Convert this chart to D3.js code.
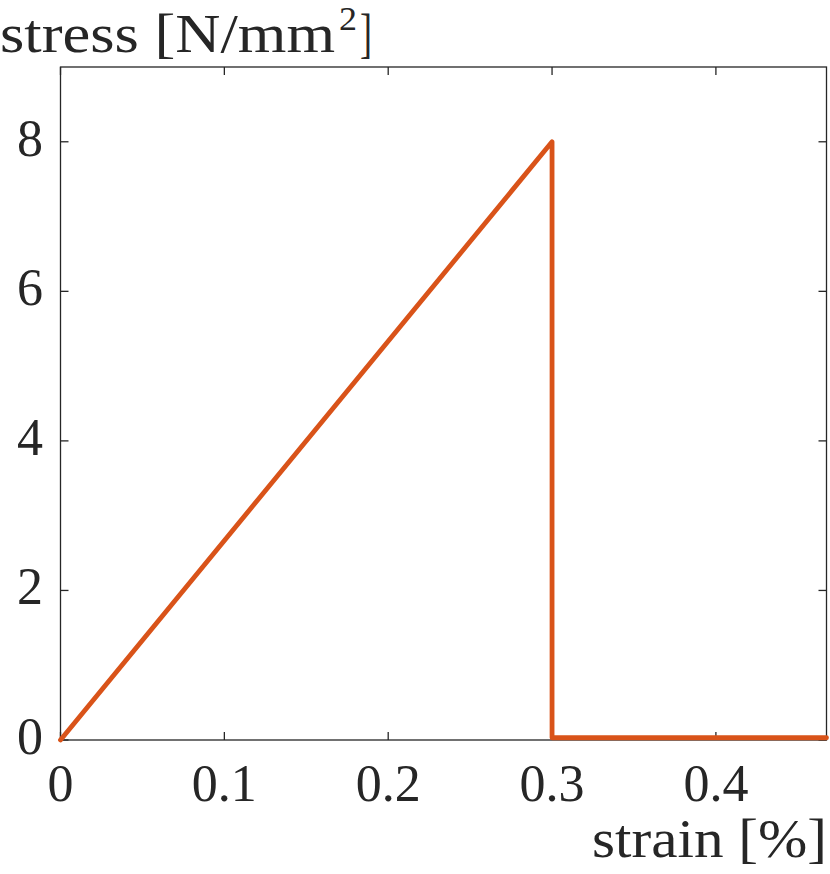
<!DOCTYPE html>
<html><head><meta charset="utf-8">
<script src="https://cdn.jsdelivr.net/npm/d3@7"></script>
<style>body{margin:0;background:#fff}svg{display:block}</style>
</head><body>
<svg id="c" width="830" height="874"></svg>
<script>
const strain = [0, 0.3, 0.3, 0.4675];
const stress = [0, 8, 0.03, 0.03];
const xTicks = [0, 0.1, 0.2, 0.3, 0.4];
const yTicks = [0, 2, 4, 6, 8];
const xDomain = [0, 0.4675];
const yDomain = [0, 9];

const svg = d3.select("#c");
const L = 60.5, R = 826.5, T = 67, B = 740;
const x = d3.scaleLinear().domain(xDomain).range([L, R]);
const y = d3.scaleLinear().domain(yDomain).range([B, T]);
const axisCol = "#262626";
const font = "'Liberation Serif', 'Times New Roman', serif";
const fs = 52;

// box
svg.append("rect").attr("x", L).attr("y", T).attr("width", R - L).attr("height", B - T)
  .attr("fill", "none").attr("stroke", axisCol).attr("stroke-width", 1.3);

// ticks (inward) on all sides
const g = svg.append("g").attr("stroke", axisCol).attr("stroke-width", 1.3);
xTicks.forEach(t => {
  g.append("line").attr("x1", x(t)).attr("x2", x(t)).attr("y1", B).attr("y2", B - 8);
  g.append("line").attr("x1", x(t)).attr("x2", x(t)).attr("y1", T).attr("y2", T + 8);
});
yTicks.forEach(t => {
  g.append("line").attr("x1", L).attr("x2", L + 8).attr("y1", y(t)).attr("y2", y(t));
  g.append("line").attr("x1", R).attr("x2", R - 8).attr("y1", y(t)).attr("y2", y(t));
});

// tick labels
svg.append("g").selectAll("text").data(xTicks).join("text")
  .attr("x", d => x(d)).attr("y", 801).attr("text-anchor", "middle")
  .attr("font-family", font).attr("font-size", fs).attr("fill", axisCol)
  .text(d => d === 0 ? "0" : d3.format(".1f")(d));
svg.append("g").selectAll("text").data(yTicks).join("text")
  .attr("x", 43).attr("y", d => y(d) + 14).attr("text-anchor", "end")
  .attr("font-family", font).attr("font-size", fs).attr("fill", axisCol)
  .text(d => d);

// axis titles
const yl = svg.append("text").attr("y", 52)
  .attr("font-family", font).attr("font-size", fs + 2).attr("fill", axisCol);
yl.append("tspan").attr("x", 0).attr("textLength", 335).attr("lengthAdjust", "spacingAndGlyphs")
  .text("stress [N/mm");
yl.append("tspan").attr("x", 339).attr("y", 30).attr("font-size", 34)
  .attr("textLength", 18).attr("lengthAdjust", "spacingAndGlyphs").text("2");
yl.append("tspan").attr("x", 360).attr("y", 52)
  .attr("textLength", 12).attr("lengthAdjust", "spacingAndGlyphs").text("]");

svg.append("text").attr("x", 592).attr("y", 857)
  .attr("font-family", font).attr("font-size", fs + 2).attr("fill", axisCol)
  .attr("textLength", 235).attr("lengthAdjust", "spacingAndGlyphs")
  .text("strain [%]");

// data line
const pts = strain.map((s, i) => [s, stress[i]]);
svg.append("path").datum(pts)
  .attr("d", d3.line().x(d => x(d[0])).y(d => y(d[1])))
  .attr("fill", "none").attr("stroke", "#D95319").attr("stroke-width", 4.8)
  .attr("stroke-linejoin", "round").attr("stroke-linecap", "round");
</script>
</body></html>
